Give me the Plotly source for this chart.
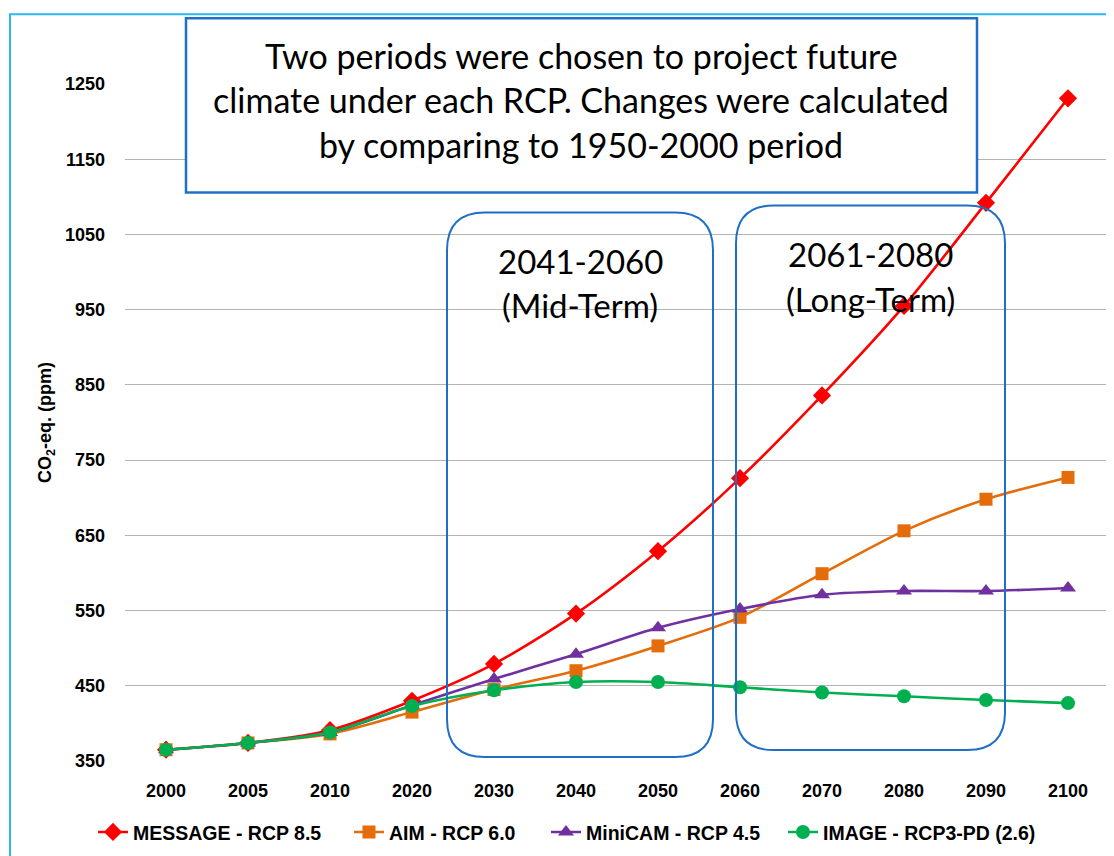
import plotly.graph_objects as go

years = ['2000', '2005', '2010', '2020', '2030', '2040', '2050', '2060', '2070', '2080', '2090', '2100']
message = [365, 374, 391, 430, 479, 546, 629, 726, 836, 955, 1092, 1231]
aim = [365, 374, 386, 415, 445, 470, 503, 541, 599, 656, 698, 727]
minicam = [365, 374, 388, 424, 459, 492, 527, 552, 571, 576, 576, 580]
image = [365, 374, 388, 423, 444, 455, 455, 448, 441, 436, 431, 427]

series_names = ['MESSAGE - RCP 8.5', 'AIM - RCP 6.0', 'MiniCAM - RCP 4.5', 'IMAGE - RCP3-PD (2.6)']
series_colors = ['#FF0000', '#E46C0A', '#7030A0', '#00B050']
series_symbols = ['diamond', 'square', 'triangle-up', 'circle']
series_sizes = [14, 13, 14, 14]
series_values = [message, aim, minicam, image]

y_ticks = [350, 450, 550, 650, 750, 850, 950, 1050, 1150, 1250]

W, H = 1114, 856
OFF = 8  # page body margin
# plot area in page pixel coordinates
L, R, T, B = 125, 1109, 84, 764
legend_x_px = [93, 349, 546, 783]


def px(x):
    return (x - L) / (R - L)


def py(y):
    return (B - y) / (B - T)


def rounded_rect(x0, y0, x1, y1, r):
    rx = r / (R - L)
    ry = r / (B - T)
    X0, X1 = px(x0), px(x1)
    Y0, Y1 = py(y0), py(y1)
    return (f"M {X0+rx},{Y0} L {X1-rx},{Y0} Q {X1},{Y0} {X1},{Y0-ry} "
            f"L {X1},{Y1+ry} Q {X1},{Y1} {X1-rx},{Y1} "
            f"L {X0+rx},{Y1} Q {X0},{Y1} {X0},{Y1+ry} "
            f"L {X0},{Y0-ry} Q {X0},{Y0} {X0+rx},{Y0} Z")


fig = go.Figure()
legend_ids = ['legend', 'legend2', 'legend3', 'legend4']
for name, vals, col, sym, sz, lid in zip(series_names, series_values, series_colors,
                                         series_symbols, series_sizes, legend_ids):
    fig.add_trace(go.Scatter(
        x=years, y=vals, name=name, mode='lines+markers', legend=lid,
        line=dict(color=col, width=2.6, shape='spline', smoothing=0.8),
        marker=dict(color=col, symbol=sym, size=sz, line=dict(width=0)),
    ))

box_blue = '#1F6FC6'
shapes = [
    dict(type='rect', xref='paper', yref='paper', x0=px(10), x1=px(1140), y0=py(14), y1=py(890),
         line=dict(color='#2DB7F2', width=2), fillcolor='rgba(0,0,0,0)', layer='above'),
    dict(type='path', xref='paper', yref='paper', path=rounded_rect(447, 213, 713, 760, 38),
         line=dict(color=box_blue, width=2), layer='above'),
    dict(type='path', xref='paper', yref='paper', path=rounded_rect(736, 206, 1005, 753, 38),
         line=dict(color=box_blue, width=2), layer='above'),
    dict(type='rect', xref='paper', yref='paper', x0=px(186), x1=px(977), y0=py(18), y1=py(193),
         line=dict(color=box_blue, width=2.5), fillcolor='white', layer='above'),
]

top_font = dict(family='Lato, Open Sans, sans-serif', size=34, color='black')
box_font = dict(family='Lato, Open Sans, sans-serif', size=33, color='black')
annotations = []
for line, yy in zip(['Two periods were chosen to project future',
                     'climate under each RCP. Changes were calculated',
                     'by comparing to 1950-2000 period'], [55, 100, 145]):
    annotations.append(dict(text=line, xref='paper', yref='paper', x=px(581), y=py(yy),
                            xanchor='center', yanchor='middle', showarrow=False, font=top_font))
for line, xx, yy in [('2041-2060', 580, 262), ('(Mid-Term)', 580, 306),
                     ('2061-2080', 870, 255), ('(Long-Term)', 870, 300)]:
    annotations.append(dict(text=line, xref='paper', yref='paper', x=px(xx), y=py(yy),
                            xanchor='center', yanchor='middle', showarrow=False, font=box_font))

legend_font = dict(size=19.5, weight='bold', family='Liberation Sans, Arial, sans-serif', color='black')
legend_layout = {}
for lid, lx in zip(legend_ids, legend_x_px):
    legend_layout[lid] = dict(orientation='h', x=px(lx), y=py(816), xanchor='left', yanchor='top',
                              font=legend_font, itemwidth=30, bgcolor='rgba(0,0,0,0)')

fig.update_layout(
    width=W, height=H,
    margin=dict(l=L - OFF, r=W - (R - OFF), t=T - OFF, b=H - (B - OFF), pad=0),
    paper_bgcolor='white', plot_bgcolor='white',
    font=dict(family='Liberation Sans, Arial, sans-serif', color='black'),
    showlegend=True,
    xaxis=dict(type='category', categoryorder='array', categoryarray=years,
               range=[-0.5, len(years) - 0.5], showgrid=False, zeroline=False, showline=False,
               ticks='', tickfont=dict(size=18, weight='bold'), ticklabelstandoff=17),
    yaxis=dict(range=[350, 1250], tickvals=y_ticks, showgrid=True, gridcolor='#B3B3B3', gridwidth=1.2,
               zeroline=False, showline=False, ticks='', tickfont=dict(size=18, weight='bold'),
               ticklabelstandoff=19,
               title=dict(text='CO<sub>2</sub>-eq. (ppm)', font=dict(size=18, weight='bold'), standoff=8)),
    shapes=shapes,
    annotations=annotations,
    **legend_layout,
)

fig.write_html('out.html')
